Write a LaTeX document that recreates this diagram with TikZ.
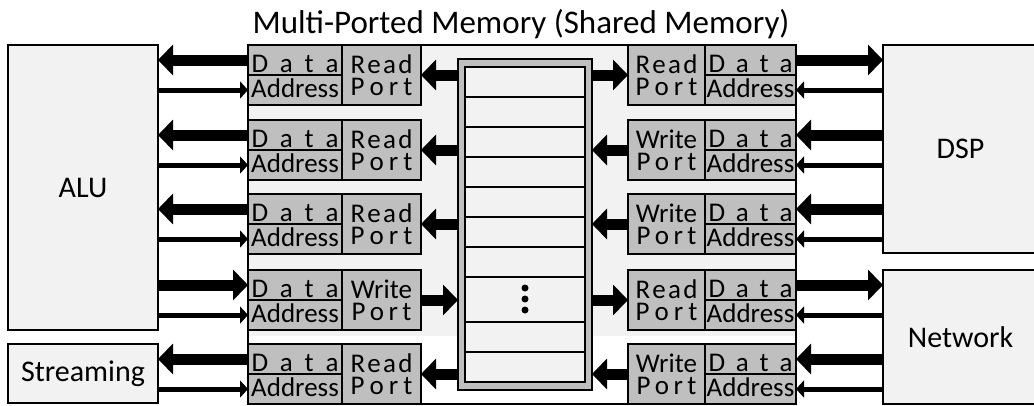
\documentclass[tikz,border=0pt]{standalone}
\usepackage{fontspec}
\setmainfont{Carlito}
\usetikzlibrary{arrows.meta,positioning}
\definecolor{boxgray}{HTML}{F2F2F2}
\definecolor{portgray}{HTML}{BFBFBF}
\newcommand{\spaced}[2]{\makebox[#1]{#2}}
\newcommand{\portRead}{\spaced{62pt}{R\hfill e\hfill a\hfill d}\\\spaced{62pt}{P\hfill o\hfill r\hfill t}}
\newcommand{\portWrite}{Write\\\spaced{60pt}{P\hfill o\hfill r\hfill t}}

\begin{document}
\begin{tikzpicture}[
		x=1pt, y=-1pt,
		unit/.style={draw, line width=2pt, fill=boxgray, outer sep=0pt, font=\fontsize{30pt}{32pt}\selectfont},
		cell/.style={draw, line width=2pt, fill=portgray, outer sep=0pt, inner sep=0pt, minimum height=30pt, font=\fontsize{27pt}{22pt}\selectfont},
		datacell/.style={cell, text height=27pt, text depth=3pt},
		addrcell/.style={cell, text height=22pt, text depth=8pt},
		port/.style={cell, minimum height=60pt, align=center},
		bigarrow/.style={line width=11pt, >={Triangle[length=15pt,width=30pt]}},
		smallarrow/.style={line width=5pt, >={Triangle[length=8pt,width=17pt]}},
		mem Read/.style={<-}, mem Write/.style={->},
		data Read/.style={->}, data Write/.style={<-}
	]
	\useasboundingbox (0,0) rectangle (1034,405);
	\clip (0,0) rectangle (1034,405);

	\node[font=\fontsize{33pt}{36pt}\selectfont, anchor=base] (title) at (521,33) {Multi-Ported Memory (Shared Memory)};

	% shared memory frame
	\fill[boxgray] (248,45) rectangle (796,336);
	\draw[line width=2pt] (248,45) rectangle (796,404);

	\node[draw, line width=2pt, fill=portgray, outer sep=0pt, minimum width=134pt, minimum height=331pt] (mem) at (525,224.5) {};
	\node[draw, line width=2pt, fill=boxgray, minimum width=120pt, minimum height=315pt] (cells) at (mem.center) {};
	\foreach \ly in {97,127,157,187,217,247,277,322,352}
		\draw[line width=2pt] (cells.west |- 0,\ly) -- (cells.east |- 0,\ly);
	\foreach \dy in {288,299,310}
		\fill (525,\dy) circle (3.5pt);

	% outside units
	\node[unit, minimum width=150pt, minimum height=285pt] (alu) at (83,187.5) {ALU};
	\node[unit, minimum width=150pt, minimum height=59pt] (stream) at (83,373.5) {Streaming};
	\node[unit, minimum width=155pt, minimum height=208pt] (dsp) at (960.5,149) {DSP};
	\node[unit, minimum width=155pt, minimum height=134pt] (net) at (960.5,337) {Network};

	% ports
	\foreach \ry/\lname/\ltgt/\rname/\rtgt [count=\i] in {45/Read/alu/Read/dsp, 120/Read/alu/Write/dsp, 194/Read/alu/Write/dsp, 270/Write/alu/Read/net, 344/Read/stream/Write/net} {
		\node[datacell, minimum width=94pt, anchor=north west] (ld\i) at (248,\ry) {\spaced{87pt}{D\hfill a\hfill t\hfill a}};
		\node[addrcell, minimum width=94pt, below=0pt of ld\i] (la\i) {Address};
		\node[port, minimum width=79pt, anchor=north west] (lp\i) at (ld\i.north east) {\csname port\lname\endcsname};
		\node[port, minimum width=77pt, anchor=north west] (rp\i) at (628,\ry) {\csname port\rname\endcsname};
		\node[datacell, minimum width=91pt, anchor=north west] (rd\i) at (rp\i.north east) {\spaced{84pt}{D\hfill a\hfill t\hfill a}};
		\node[addrcell, minimum width=91pt, below=0pt of rd\i] (ra\i) {Address};

		\draw[bigarrow, mem \lname] (lp\i.east) -- (mem.west |- lp\i.east);
		\draw[bigarrow, mem \rname] (rp\i.west) -- (mem.east |- rp\i.west);
		\draw[bigarrow, data \lname] (ld\i.west) -- (\ltgt.east |- ld\i.west);
		\draw[bigarrow, data \rname] (rd\i.east) -- (\rtgt.west |- rd\i.east);
		\draw[smallarrow, <-] (la\i.west) -- (\ltgt.east |- la\i.west);
		\draw[smallarrow, <-] (ra\i.east) -- (\rtgt.west |- ra\i.east);
	}
\end{tikzpicture}
\end{document}
